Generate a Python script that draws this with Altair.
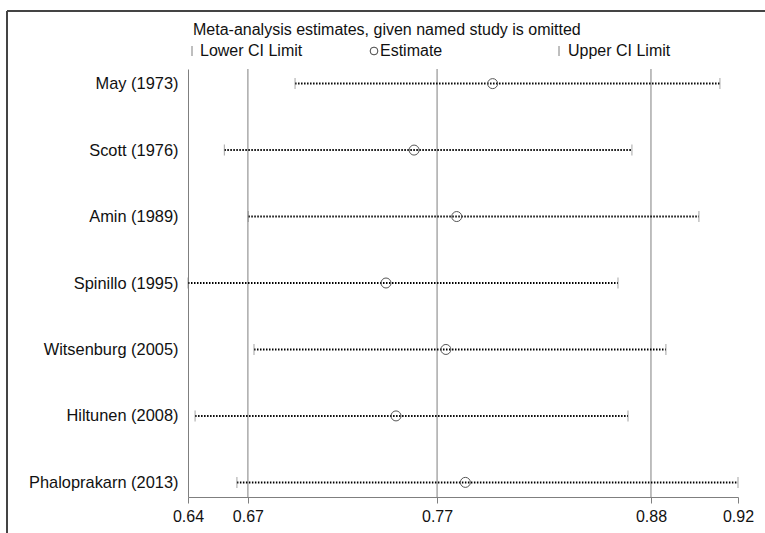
import altair as alt
import pandas as pd

# ---- data ----
studies = ["May (1973)", "Scott (1976)", "Amin (1989)", "Spinillo (1995)",
           "Witsenburg (2005)", "Hiltunen (2008)", "Phaloprakarn (2013)"]
lower = [0.6945, 0.6585, 0.6707, 0.6400, 0.6736, 0.6436, 0.6649]
estimate = [0.7951, 0.7551, 0.7768, 0.7408, 0.7713, 0.7459, 0.7812]
upper = [0.9108, 0.8660, 0.9001, 0.8589, 0.8833, 0.8640, 0.9200]
overall = [0.6705, 0.7668, 0.8757]   # combined lower CI, estimate, upper CI

title_text = "Meta-analysis estimates, given named study is omitted"
legend_labels = ["Lower CI Limit", "Estimate", "Upper CI Limit"]

tick_vals = [min(lower)] + overall + [max(upper)]

FONT = "Liberation Sans"
FS = 16
GREY = "#7f7f7f"
TXT = "#111"

df = pd.DataFrame({"study": studies, "lower": lower, "estimate": estimate, "upper": upper})
ref = pd.DataFrame({"v": overall})

W, H = 550, 428

xscale = alt.Scale(domain=[min(lower), max(upper)], nice=False, zero=False)
yscale = alt.Scale(type="point", padding=0.22)

x_axis = alt.Axis(values=tick_vals, format=".2f", title=None, grid=False,
                  domainColor=GREY, tickColor=GREY, tickSize=6, labelFontSize=FS,
                  labelFont=FONT, labelColor=TXT, labelPadding=5, labelFlush=False,
                  labelOverlap=False)
y_axis = alt.Axis(title=None, ticks=False, domain=True, domainColor=GREY,
                  labelFontSize=16.4, labelFont=FONT, labelColor=TXT, labelPadding=10,
                  grid=False, labelLimit=300)

base = alt.Chart(df)

refs = alt.Chart(ref).mark_rule(color=GREY, strokeWidth=1).encode(
    x=alt.X("v:Q", scale=xscale, axis=x_axis),
)

dots = base.mark_rule(color="#000", strokeWidth=2, strokeDash=[1.5, 1.5]).encode(
    x=alt.X("lower:Q", scale=xscale, axis=x_axis),
    x2="upper:Q",
    y=alt.Y("study:N", sort=studies, scale=yscale, axis=y_axis),
)

cap_lo = base.mark_tick(color=GREY, size=11, thickness=1, orient="vertical").encode(
    x=alt.X("lower:Q", scale=xscale),
    y=alt.Y("study:N", sort=studies, scale=yscale),
)
cap_hi = base.mark_tick(color=GREY, size=11, thickness=1, orient="vertical").encode(
    x=alt.X("upper:Q", scale=xscale),
    y=alt.Y("study:N", sort=studies, scale=yscale),
)
est = base.mark_point(shape="circle", filled=False, size=100, color="#555",
                      strokeWidth=1, opacity=1).encode(
    x=alt.X("estimate:Q", scale=xscale),
    y=alt.Y("study:N", sort=studies, scale=yscale),
)

# ---- heading / legend / frame decorations ----
one = pd.DataFrame({"k": [0]})
deco = alt.Chart(one)

heading = deco.mark_text(text=title_text, align="left", baseline="middle",
                         fontSize=FS, font=FONT, color=TXT).encode(
    x=alt.value(5), y=alt.value(-39))

leg_y = -18
leg_bar1 = deco.mark_rule(color=GREY, strokeWidth=1).encode(
    x=alt.value(4), y=alt.value(leg_y - 5), y2=alt.value(leg_y + 5))
leg_txt1 = deco.mark_text(text=legend_labels[0], align="left", baseline="middle",
                          fontSize=FS, font=FONT, color=TXT).encode(
    x=alt.value(12), y=alt.value(leg_y))
leg_circ = deco.mark_point(shape="circle", filled=False, size=60, color="#444",
                           strokeWidth=1, opacity=1).encode(
    x=alt.value(186), y=alt.value(leg_y))
leg_txt2 = deco.mark_text(text=legend_labels[1], align="left", baseline="middle",
                          fontSize=FS, font=FONT, color=TXT).encode(
    x=alt.value(192), y=alt.value(leg_y))
leg_bar3 = deco.mark_rule(color=GREY, strokeWidth=1).encode(
    x=alt.value(371), y=alt.value(leg_y - 5), y2=alt.value(leg_y + 5))
leg_txt3 = deco.mark_text(text=legend_labels[2], align="left", baseline="middle",
                          fontSize=FS, font=FONT, color=TXT).encode(
    x=alt.value(380), y=alt.value(leg_y))

frame_top = deco.mark_rule(color="#444", strokeWidth=2).encode(
    x=alt.value(-181), x2=alt.value(600), y=alt.value(-58))
frame_left = deco.mark_rule(color="#444", strokeWidth=2).encode(
    x=alt.value(-181), y=alt.value(-58), y2=alt.value(480))

chart = alt.layer(
    refs, dots, cap_lo, cap_hi, est,
    heading, leg_bar1, leg_txt1, leg_circ, leg_txt2, leg_bar3, leg_txt3,
    frame_top, frame_left,
).properties(
    width=W, height=H,
    autosize=alt.AutoSizeParams(type="none"),
    padding={"left": 188, "top": 69, "right": 27, "bottom": 36},
    background="white",
).configure_view(stroke=None)

chart.save("out.html", embed_options={"renderer": "svg", "actions": False})
